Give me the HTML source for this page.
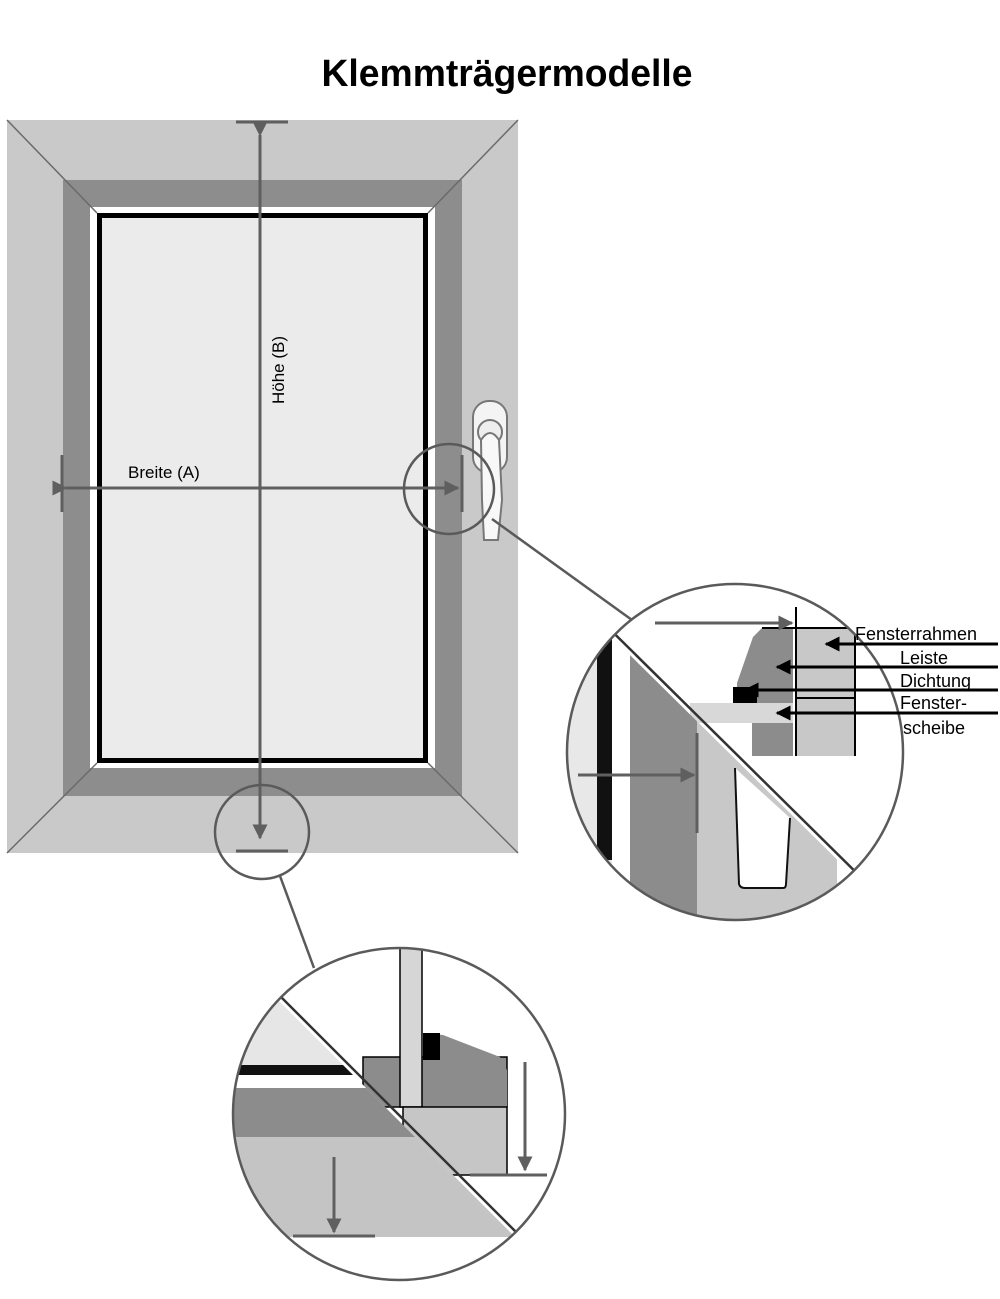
<!DOCTYPE html>
<html><head><meta charset="utf-8"><style>
html,body{margin:0;padding:0;background:#fff;width:1000px;height:1299px;overflow:hidden;}
svg{display:block;}
text{font-family:"Liberation Sans",sans-serif;}
</style></head><body>
<svg width="1000" height="1299" viewBox="0 0 1000 1299" xmlns="http://www.w3.org/2000/svg">
<defs>
<marker id="ag" viewBox="0 0 10 10" refX="9" refY="5" markerWidth="5" markerHeight="5" orient="auto"><path d="M0,0 L10,5 L0,10z" fill="#5f5f5f"/></marker>
<marker id="ab" viewBox="0 0 10 10" refX="9" refY="5" markerWidth="5" markerHeight="5" orient="auto"><path d="M0,0 L10,5 L0,10z" fill="#000"/></marker>
<clipPath id="c1"><circle cx="735" cy="752" r="168"/></clipPath>
<clipPath id="c2"><circle cx="399" cy="1114" r="166"/></clipPath>
<clipPath id="lr"><polygon points="560,586 960,981 960,1000 560,1000"/></clipPath>
<clipPath id="ll"><polygon points="220,942 580,1302 220,1302"/></clipPath>
</defs>
<text x="507" y="86" text-anchor="middle" font-size="38" font-weight="bold" textLength="371" lengthAdjust="spacingAndGlyphs">Klemmträgermodelle</text>

<!-- window frame -->
<rect x="7" y="120" width="511" height="733" fill="#c9c9c9"/>
<rect x="63" y="180" width="399" height="616" fill="#8d8d8d"/>
<rect x="90" y="207" width="345" height="561" fill="#fff"/>
<rect x="99.5" y="215.5" width="326" height="545" fill="#ebebeb" stroke="#000" stroke-width="5"/>
<g stroke="#6a6a6a" stroke-width="1.5">
<line x1="7" y1="120" x2="97" y2="213"/><line x1="518" y1="120" x2="428" y2="213"/>
<line x1="7" y1="853" x2="97" y2="763"/><line x1="518" y1="853" x2="428" y2="763"/>
</g>
<!-- handle -->
<rect x="473" y="401" width="34" height="72" rx="16" fill="#f4f4f4" stroke="#777" stroke-width="2"/>
<ellipse cx="490" cy="432" rx="12" ry="12" fill="#eee" stroke="#777" stroke-width="2"/>
<path d="M481,440 Q490,426 499,440 L502,500 L498,540 L484,540 L482,500 Z" fill="#f8f8f8" stroke="#777" stroke-width="2"/>

<!-- measurement -->
<g stroke="#5f5f5f" stroke-width="3" fill="none">
<line x1="236" y1="122" x2="288" y2="122"/>
<line x1="236" y1="851" x2="288" y2="851"/>
<line x1="260" y1="135" x2="260" y2="838" marker-start="url(#ag)" marker-end="url(#ag)"/>
<line x1="62" y1="455" x2="62" y2="512"/>
<line x1="462" y1="455" x2="462" y2="512"/>
<line x1="66" y1="488" x2="458" y2="488" marker-start="url(#ag)" marker-end="url(#ag)"/>
</g>
<text x="128" y="478" font-size="17">Breite (A)</text>
<text transform="translate(284,370) rotate(-90)" text-anchor="middle" font-size="17">Höhe (B)</text>

<!-- small circles and connectors -->
<g stroke="#5a5a5a" stroke-width="2.5" fill="none">
<circle cx="449" cy="489" r="45"/>
<circle cx="262" cy="832" r="47"/>
<line x1="492" y1="519" x2="632" y2="620"/>
<line x1="280" y1="876" x2="314" y2="968"/>
</g>

<!-- big right circle -->
<g clip-path="url(#c1)">
<rect x="560" y="580" width="400" height="350" fill="#fff"/>
<rect x="690" y="703" width="103" height="20" fill="#d8d8d8"/>
<polygon points="737,683 753,637 762,628 793,628 793,756 752,756 752,723 793,723 793,703 737,703" fill="#8c8c8c"/>
<rect x="733" y="687" width="24" height="16" fill="#000"/>
<rect x="797" y="628" width="58" height="128" fill="#c8c8c8"/>
<line x1="797" y1="698" x2="855" y2="698" stroke="#000" stroke-width="2"/>
<line x1="855" y1="628" x2="855" y2="756" stroke="#000" stroke-width="2"/>
<line x1="762" y1="628" x2="850" y2="628" stroke="#000" stroke-width="2"/>
<line x1="796" y1="607" x2="796" y2="756" stroke="#000" stroke-width="2"/>
<line x1="655" y1="623" x2="792" y2="623" stroke="#5f5f5f" stroke-width="3" marker-end="url(#ag)"/>
<g clip-path="url(#lr)">
<rect x="560" y="580" width="400" height="350" fill="#e8e8e8"/>
<rect x="597" y="600" width="15" height="260" fill="#111"/>
<rect x="612" y="600" width="18" height="330" fill="#fff"/>
<rect x="630" y="600" width="67" height="330" fill="#8c8c8c"/>
<rect x="697" y="600" width="140" height="330" fill="#c8c8c8"/>
<rect x="837" y="600" width="120" height="330" fill="#fff"/>
<path d="M735,768 L739,884 Q740,888 745,888 L783,888 Q786,888 786,884 L790,818" fill="#fff" stroke="#111" stroke-width="2"/>
<line x1="697" y1="733" x2="697" y2="833" stroke="#5f5f5f" stroke-width="3"/>
<line x1="578" y1="775" x2="694" y2="775" stroke="#5f5f5f" stroke-width="3" marker-end="url(#ag)"/>
</g>
<line x1="560" y1="580" x2="960" y2="975" stroke="#333" stroke-width="2.5"/>
</g>
<circle cx="735" cy="752" r="168" fill="none" stroke="#5a5a5a" stroke-width="2.5"/>
<!-- labels -->
<g stroke="#000" stroke-width="3" fill="none">
<line x1="998" y1="644" x2="826" y2="644" marker-end="url(#ab)"/>
<line x1="998" y1="667" x2="777" y2="667" marker-end="url(#ab)"/>
<line x1="998" y1="690" x2="745" y2="690" marker-end="url(#ab)"/>
<line x1="998" y1="713" x2="777" y2="713" marker-end="url(#ab)"/>
</g>
<g font-size="18" fill="#000">
<text x="855" y="640">Fensterrahmen</text>
<text x="900" y="664">Leiste</text>
<text x="900" y="687">Dichtung</text>
<text x="900" y="709">Fenster-</text>
<text x="903" y="734">scheibe</text>
</g>

<!-- big bottom circle -->
<g clip-path="url(#c2)">
<rect x="220" y="940" width="360" height="360" fill="#fff"/>
<rect x="363" y="1057" width="144" height="50" fill="#8c8c8c" stroke="#000" stroke-width="1.5"/>
<polygon points="423,1033 443,1035 500,1057 507,1070 507,1107 423,1107" fill="#8c8c8c"/>
<rect x="423" y="1033" width="17" height="27" fill="#000"/>
<rect x="400" y="940" width="22" height="167" fill="#d6d6d6" stroke="#000" stroke-width="1.5"/>
<rect x="403" y="1107" width="104" height="68" fill="#c6c6c6" stroke="#000" stroke-width="1.5"/>
<line x1="470" y1="1175" x2="547" y2="1175" stroke="#5f5f5f" stroke-width="3"/>
<line x1="525" y1="1062" x2="525" y2="1170" stroke="#5f5f5f" stroke-width="3" marker-end="url(#ag)"/>
<g clip-path="url(#ll)">
<rect x="220" y="930" width="360" height="370" fill="#e6e6e6"/>
<rect x="220" y="1065" width="360" height="10" fill="#111"/>
<rect x="220" y="1075" width="360" height="13" fill="#fff"/>
<rect x="220" y="1088" width="360" height="49" fill="#8c8c8c"/>
<rect x="220" y="1137" width="360" height="100" fill="#c4c4c4"/>
<rect x="220" y="1237" width="360" height="70" fill="#fff"/>
<line x1="293" y1="1236" x2="375" y2="1236" stroke="#5f5f5f" stroke-width="3"/>
<line x1="334" y1="1157" x2="334" y2="1232" stroke="#5f5f5f" stroke-width="3" marker-end="url(#ag)"/>
</g>
<line x1="220" y1="936" x2="580" y2="1296" stroke="#333" stroke-width="2.5"/>
</g>
<circle cx="399" cy="1114" r="166" fill="none" stroke="#5a5a5a" stroke-width="2.5"/>
</svg>
</body></html>
